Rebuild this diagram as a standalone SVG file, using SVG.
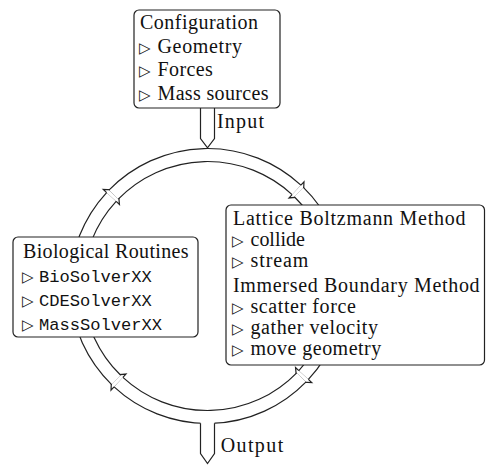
<svg xmlns="http://www.w3.org/2000/svg" width="486" height="465" viewBox="0 0 486 465">
<style>
.box{fill:#fff;stroke:#222;stroke-width:1.2}
.t{font-family:"Liberation Serif","Times New Roman",serif;font-size:20px;fill:#111}
.m{font-family:"Liberation Mono","Courier New",monospace;font-size:17.1px;fill:#111}
.tri{font-family:"DejaVu Sans",sans-serif;font-size:15px;fill:#111}
.bo{fill:none;stroke:#222;stroke-width:14.2}
.bi{fill:none;stroke:#fff;stroke-width:11.8}
.tip{fill:#fff;stroke:#222;stroke-width:1.2;stroke-linejoin:miter}
.ln{fill:none;stroke:#222;stroke-width:1.2;stroke-linejoin:miter}
</style>
<g id="connectors">
  <path class="tip" d="M106.61 192.58 L103.31 189.52 L118.16 190.19 L119.45 204.47 L116.15 201.41"/>
  <path class="tip" d="M300.92 185.11 L303.98 181.81 L303.31 196.66 L289.03 197.95 L292.09 194.65"/>
  <path class="tip" d="M308.39 379.42 L311.69 382.48 L296.84 381.81 L295.55 367.53 L298.85 370.59"/>
  <path class="tip" d="M114.08 386.89 L111.02 390.19 L111.69 375.34 L125.97 374.05 L122.91 377.35"/>
  <path class="bo" d="M116.17 379.91 A131 131 0 0 1 111.38 196.99"/>
  <path class="bi" d="M116.17 379.91 A131 131 0 0 1 111.38 196.99"/>
  <path class="bo" d="M113.59 194.67 A131 131 0 0 1 296.51 189.88"/>
  <path class="bi" d="M113.59 194.67 A131 131 0 0 1 296.51 189.88"/>
  <path class="bo" d="M298.83 192.09 A131 131 0 0 1 303.62 375.01"/>
  <path class="bi" d="M298.83 192.09 A131 131 0 0 1 303.62 375.01"/>
  <path class="bo" d="M301.41 377.33 A131 131 0 0 1 118.49 382.12"/>
  <path class="bi" d="M301.41 377.33 A131 131 0 0 1 118.49 382.12"/>
  <path class="tip" d="M200.5 108 L200.5 138.5 L207.5 147.8 L214.5 138.5 L214.5 108"/>
  <path fill="#fff" d="M200.5 418 L200.5 453.5 L207.5 463.5 L214.5 453.5 L214.5 418 Z"/>
  <path class="ln" d="M200.5 423.3 L200.5 453.5 L207.5 463.5 L214.5 453.5 L214.5 423.3"/>
  <text class="t" x="217" y="128" textLength="47">Input</text>
  <text class="t" x="220.7" y="452" textLength="62.5">Output</text>
</g>
<g id="config">
  <rect class="box" x="134" y="10" width="146" height="98" rx="5"/>
  <text class="t" x="140" y="29" textLength="118">Configuration</text>
  <text class="tri" x="139" y="53">▷</text><text class="t" x="157.5" y="53" textLength="84.6">Geometry</text>
  <text class="tri" x="139" y="76">▷</text><text class="t" x="157.5" y="76" textLength="55.4">Forces</text>
  <text class="tri" x="139" y="100">▷</text><text class="t" x="157.5" y="100" textLength="111">Mass sources</text>
</g>
<g id="lattice">
  <rect class="box" x="226" y="205" width="258.5" height="160" rx="5"/>
  <text class="t" x="233" y="224.5" textLength="232.5">Lattice Boltzmann Method</text>
  <text class="tri" x="232" y="245.5">▷</text><text class="t" x="250.5" y="245.5" textLength="54.4">collide</text>
  <text class="tri" x="232" y="266.5">▷</text><text class="t" x="250.5" y="266.5" textLength="57.9">stream</text>
  <text class="t" x="233" y="291.5" textLength="246.6">Immersed Boundary Method</text>
  <text class="tri" x="232" y="313">▷</text><text class="t" x="250.5" y="313" textLength="105.3">scatter force</text>
  <text class="tri" x="232" y="334">▷</text><text class="t" x="250.5" y="334" textLength="127.5">gather velocity</text>
  <text class="tri" x="232" y="355">▷</text><text class="t" x="250.5" y="355" textLength="130.7">move geometry</text>
</g>
<g id="bio">
  <rect class="box" x="13" y="237" width="185" height="100" rx="5"/>
  <text class="t" x="23" y="258" textLength="165.6">Biological Routines</text>
  <text class="tri" x="22" y="282">▷</text><text class="m" x="39" y="282">BioSolverXX</text>
  <text class="tri" x="22" y="306">▷</text><text class="m" x="39" y="306">CDESolverXX</text>
  <text class="tri" x="22" y="330">▷</text><text class="m" x="39" y="330">MassSolverXX</text>
</g>
</svg>
